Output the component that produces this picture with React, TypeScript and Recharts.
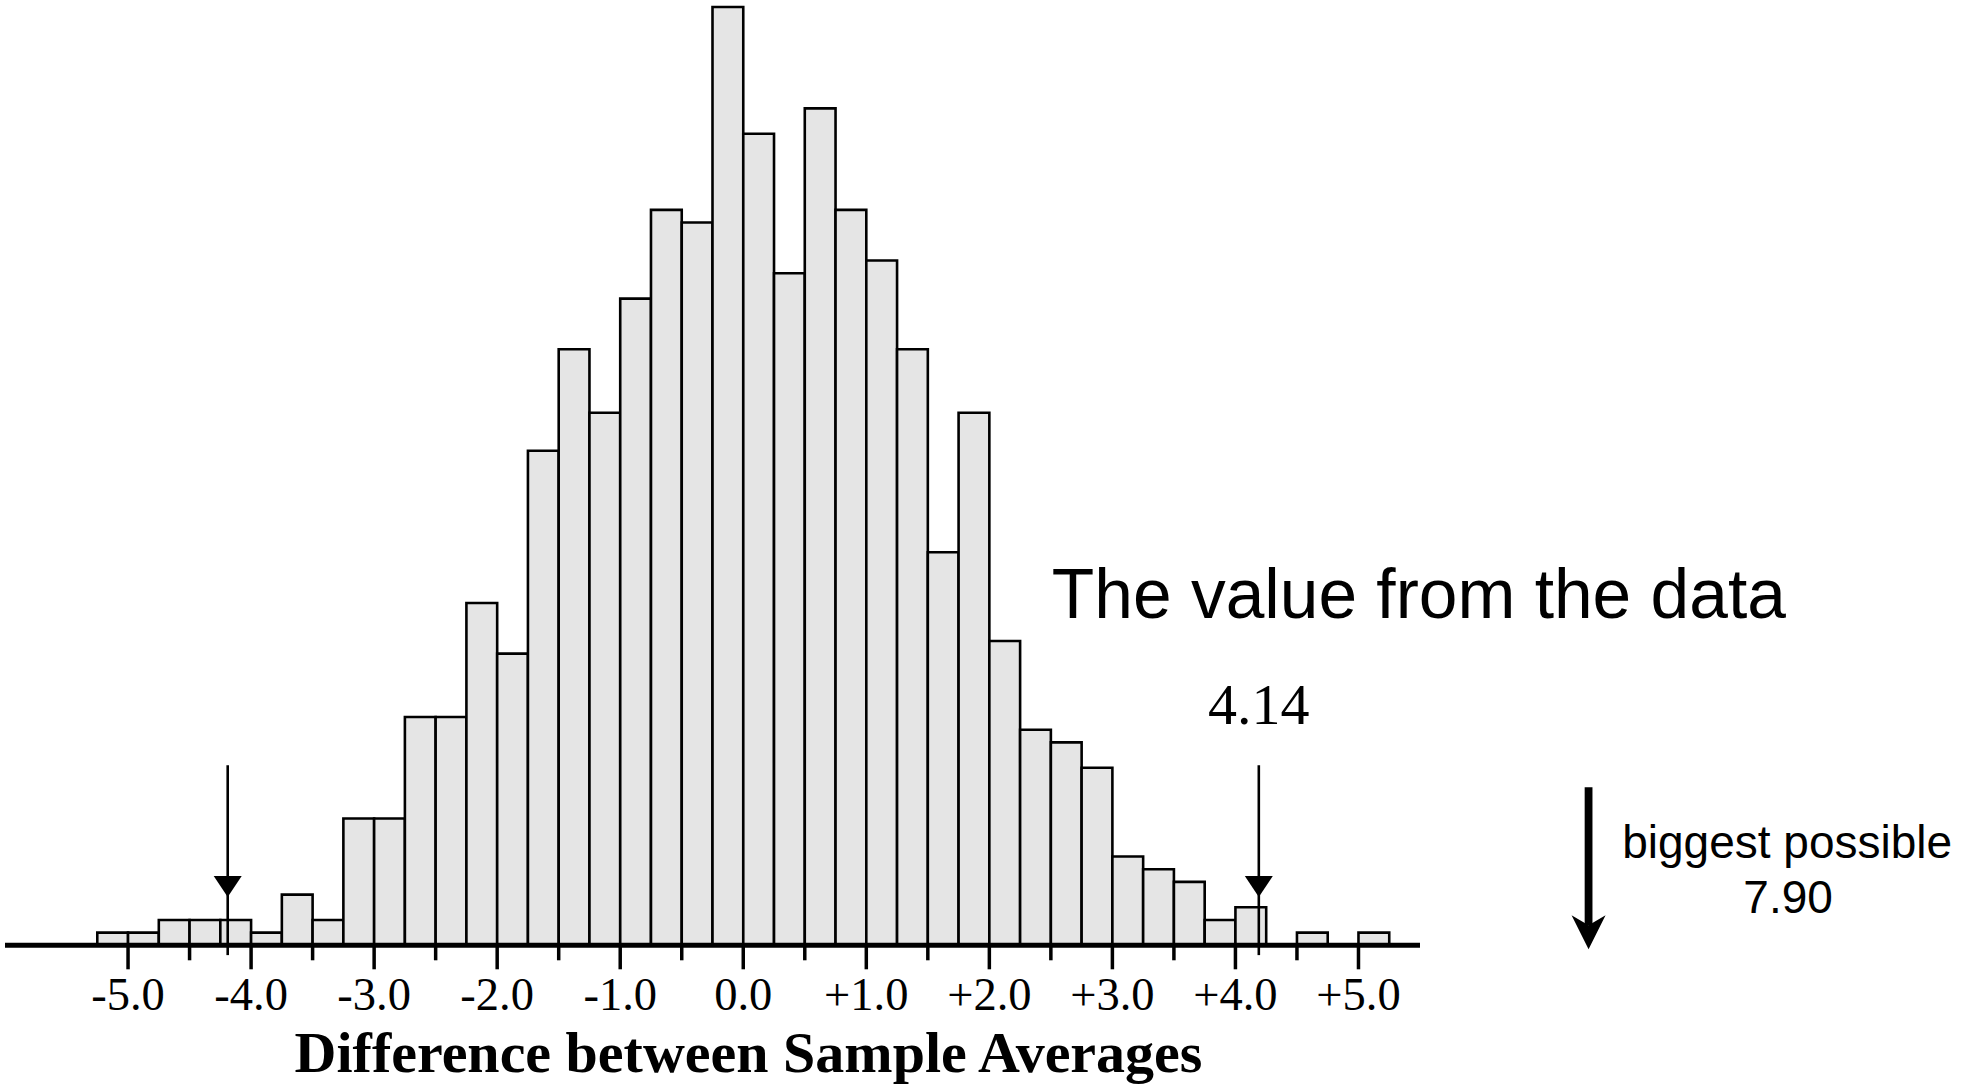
import React from 'react';
import { ComposedChart, Bar, XAxis, YAxis, ReferenceLine } from 'recharts';

// Histogram bins (width 0.25), centres
const binCenters = [
  -5.125, -4.875, -4.625, -4.375, -4.125, -3.875, -3.625, -3.375, -3.125, -2.875,
  -2.625, -2.375, -2.125, -1.875, -1.625, -1.375, -1.125, -0.875, -0.625, -0.375,
  -0.125, 0.125, 0.375, 0.625, 0.875, 1.125, 1.375, 1.625, 1.875, 2.125,
  2.375, 2.625, 2.875, 3.125, 3.375, 3.625, 3.875, 4.125, 4.375, 4.625,
  4.875, 5.125,
];
// Counts per bin
const binCounts = [
  1, 1, 2, 2, 2, 1, 4, 2, 10, 10,
  18, 18, 27, 23, 39, 47, 42, 51, 58, 57,
  74, 64, 53, 66, 58, 54, 47, 31, 42, 24,
  17, 16, 14, 7, 6, 5, 2, 3, 0, 1,
  0, 1,
];
// Axis ticks
const tickValues = [-5, -4.5, -4, -3.5, -3, -2.5, -2, -1.5, -1, -0.5, 0, 0.5, 1, 1.5, 2, 2.5, 3, 3.5, 4, 4.5, 5];
const majorTicks = [-5, -4, -3, -2, -1, 0, 1, 2, 3, 4, 5];
const majorLabels = ['-5.0', '-4.0', '-3.0', '-2.0', '-1.0', '0.0', '+1.0', '+2.0', '+3.0', '+4.0', '+5.0'];
const xDomain = [-6, 5.5];
const yDomain = [0, 74.5];

// Annotations
const titleText = 'Difference between Sample Averages';
const dataValueLabel = '4.14';
const dataValueText = 'The value from the data';
const markerX = 4.19; // arrow positions as drawn (±)
const markerTopY = 14.2;
const markerTipY = 3.8;
const biggestX = 6.87;
const biggestTopY = 12.46;
const biggestTipY = -0.32;
const biggestText1 = 'biggest possible';
const biggestText2 = '7.90';

const data = binCenters.map((x, i) => ({ x, count: binCounts[i] }));

const SERIF = '"Liberation Serif", "Times New Roman", serif';
const SANS = '"Liberation Sans", Arial, Helvetica, sans-serif';

const AxisTick = (props: any) => {
  const { x, y, payload } = props;
  const v = payload.value;
  const idx = majorTicks.indexOf(v);
  const isMajor = idx >= 0;
  return (
    <g>
      <line x1={x} x2={x} y1={y} y2={y + (isMajor ? 24 : 15)} stroke="#000" strokeWidth={3.5} />
      {isMajor && (
        <text x={x} y={y + 65} textAnchor="middle" fontFamily={SERIF} fontSize={46.5} fill="#000">
          {majorLabels[idx]}
        </text>
      )}
    </g>
  );
};

const ThinArrow = (withText: boolean) => (props: any) => {
  const { x1, y1, x2, y2 } = props;
  return (
    <g>
      <line x1={x1} y1={y1} x2={x2} y2={y2 + 58} stroke="#000" strokeWidth={2.6} />
      <path d={`M ${x2 - 14} ${y2 - 21} L ${x2 + 14} ${y2 - 21} L ${x2} ${y2} Z`} fill="#000" />
      {withText && (
        <>
          <text x={x1} y={y1 - 41} textAnchor="middle" fontFamily={SERIF} fontSize={58} fill="#000">
            {dataValueLabel}
          </text>
          <text x={x1 - 207} y={y1 - 147.7} textAnchor="start" fontFamily={SANS} fontSize={69.5} fill="#000">
            {dataValueText}
          </text>
        </>
      )}
    </g>
  );
};

const ThickArrow = (props: any) => {
  const { x1, y1, x2, y2 } = props;
  return (
    <g>
      <line x1={x1} y1={y1} x2={x2} y2={y2 - 24} stroke="#000" strokeWidth={7.8} />
      <path
        d={`M ${x2} ${y2} L ${x2 - 17} ${y2 - 34} L ${x2} ${y2 - 24} L ${x2 + 17} ${y2 - 34} Z`}
        fill="#000"
      />
      <text x={x1 + 198.6} y={y1 + 71} textAnchor="middle" fontFamily={SANS} fontSize={46} fill="#000">
        {biggestText1}
      </text>
      <text x={x1 + 199.5} y={y1 + 125.4} textAnchor="middle" fontFamily={SANS} fontSize={46} fill="#000">
        {biggestText2}
      </text>
    </g>
  );
};

const TitleLabel = (props: any) => {
  const vb = props.viewBox || {};
  return (
    <text
      x={(vb.x ?? 0) + 743.5}
      y={(vb.y ?? 0) + 127}
      textAnchor="middle"
      fontFamily={SERIF}
      fontWeight="bold"
      fontSize={58}
      fill="#000"
    >
      {titleText}
    </text>
  );
};

export default function App() {
  return (
    <div style={{ position: 'absolute', left: 0, top: 0, width: 1961, height: 1086, background: '#fff' }}>
      <ComposedChart
        width={1961}
        height={1086}
        data={data}
        margin={{ top: 0.6, right: 541, bottom: 0.7, left: 5 }}
      >
        <XAxis
          dataKey="x"
          type="number"
          domain={xDomain}
          allowDataOverflow
          ticks={tickValues}
          interval={0}
          height={140}
          tickSize={0}
          tickMargin={0}
          tickLine={false}
          axisLine={{ stroke: '#000', strokeWidth: 5 }}
          tick={<AxisTick />}
          label={{ content: (p: any) => <TitleLabel {...p} /> }}
        />
        <YAxis type="number" domain={yDomain} allowDataOverflow hide />
        <Bar
          dataKey="count"
          barSize={30.76}
          fill="#e5e5e5"
          stroke="#000"
          strokeWidth={2.6}
          isAnimationActive={false}
        />
        <ReferenceLine
          ifOverflow="visible"
          segment={[{ x: -markerX, y: markerTopY }, { x: -markerX, y: markerTipY }]}
          shape={ThinArrow(false)}
        />
        <ReferenceLine
          ifOverflow="visible"
          segment={[{ x: markerX, y: markerTopY }, { x: markerX, y: markerTipY }]}
          shape={ThinArrow(true)}
        />
        <ReferenceLine
          ifOverflow="visible"
          segment={[{ x: biggestX, y: biggestTopY }, { x: biggestX, y: biggestTipY }]}
          shape={ThickArrow}
        />
      </ComposedChart>
    </div>
  );
}
